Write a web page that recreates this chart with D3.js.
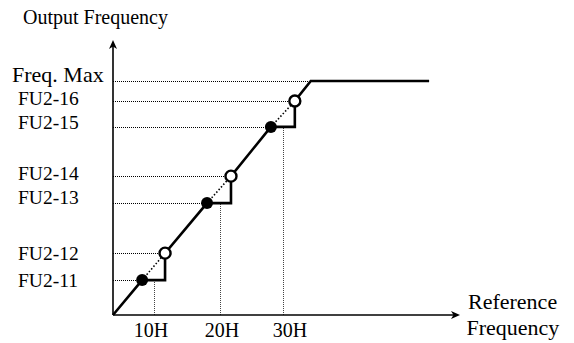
<!DOCTYPE html>
<html><head><meta charset="utf-8">
<script src="https://cdn.jsdelivr.net/npm/d3@7"></script>
<style>html,body{margin:0;padding:0;background:#fff;}svg{display:block;}
text{font-family:"Liberation Serif","Times New Roman",Times,"DejaVu Serif",serif;fill:#000;}</style>
</head><body>
<script>
// ---- data (abstract axis units, 0..100 along each axis) ----
const levelLabels = ["Freq. Max", "FU2-16", "FU2-15", "FU2-14", "FU2-13", "FU2-12", "FU2-11"];
const levelValues = [85.1, 77.8, 68.4, 50.5, 40.7, 22.5, 12.7];
const refTickLabels = ["10H", "20H", "30H"];
const refTickValues = [11.8, 30.8, 49.0];
const jumpLowX = [8.4, 27.1, 45.5];      // filled dots (reference freq)
const jumpLowY = [12.7, 40.7, 68.4];     // filled dots (output freq)
const jumpHighX = [15.0, 34.0, 52.4];    // open dots
const jumpHighY = [22.5, 50.5, 77.8];
const maxX = 57.0, maxY = 85.1, endX = 91.1;

const W = 574, H = 343;
const svg = d3.select("body").append("svg").attr("width", W).attr("height", H);
const x = d3.scaleLinear().domain([0, 100]).range([113, 460]);
const y = d3.scaleLinear().domain([0, 100]).range([315, 40]);

// dotted guide lines
const dotted = svg.append("g").attr("fill", "none").attr("stroke", "#000")
  .attr("stroke-width", 1).attr("stroke-dasharray", "1,1").attr("shape-rendering", "crispEdges");
const levelX = [maxX, jumpHighX[2], jumpLowX[2], jumpHighX[1], jumpLowX[1], jumpHighX[0], jumpLowX[0]];
levelValues.forEach((v, i) => {
  dotted.append("line").attr("x1", x(0)).attr("x2", x(levelX[i]))
    .attr("y1", Math.round(y(v)) + 0.5).attr("y2", Math.round(y(v)) + 0.5);
});
refTickValues.forEach((v, i) => {
  dotted.append("line").attr("x1", Math.round(x(v)) + 0.5).attr("x2", Math.round(x(v)) + 0.5)
    .attr("y1", y(0)).attr("y2", y(jumpLowY[i])).attr("stroke", "#444");
});
// dotted diagonals across the jump regions
jumpLowX.forEach((v, i) => {
  svg.append("line").attr("x1", x(v)).attr("y1", y(jumpLowY[i]))
    .attr("x2", x(jumpHighX[i])).attr("y2", y(jumpHighY[i]))
    .attr("stroke", "#000").attr("stroke-width", 1.6).attr("stroke-dasharray", "1.5,2");
});

// axes
const axes = svg.append("g").attr("stroke", "#000").attr("stroke-width", 1.6).attr("fill", "none");
axes.append("line").attr("x1", x(0)).attr("y1", y(0)).attr("x2", x(100) - 4).attr("y2", y(0));
axes.append("line").attr("x1", x(0)).attr("y1", y(0)).attr("x2", x(0)).attr("y2", y(100) + 4);
// arrowheads
svg.append("path").attr("fill", "#000")
  .attr("d", `M${x(100)},${y(0)} l-9,-4 l2.5,4 l-2.5,4 z`);
svg.append("path").attr("fill", "#000")
  .attr("d", `M${x(0)},${y(100)} l-4,9 l4,-2.5 l4,2.5 z`);

// main characteristic curve
const pts = [[0, 0]];
jumpLowX.forEach((v, i) => {
  pts.push([v, jumpLowY[i]]);
  pts.push([jumpHighX[i], jumpLowY[i]]);
  pts.push([jumpHighX[i], jumpHighY[i]]);
});
pts.push([maxX, maxY]);
pts.push([endX, maxY]);
svg.append("path").datum(pts)
  .attr("fill", "none").attr("stroke", "#000").attr("stroke-width", 2.6)
  .attr("stroke-linejoin", "miter")
  .attr("d", d3.line().x(d => x(d[0])).y(d => y(d[1])));

// dots
jumpLowX.forEach((v, i) => {
  svg.append("circle").attr("cx", x(v)).attr("cy", y(jumpLowY[i])).attr("r", 6).attr("fill", "#000");
  svg.append("circle").attr("cx", x(jumpHighX[i])).attr("cy", y(jumpHighY[i])).attr("r", 5.5)
    .attr("fill", "#fff").attr("stroke", "#000").attr("stroke-width", 2.4);
});

// level labels
const levelNudge = [-6, -3, -4, -3, -6, 0, 0];
levelLabels.forEach((t, i) => {
  const big = i === 0;
  svg.append("text").attr("x", big ? 12 : 18).attr("y", y(levelValues[i]) + levelNudge[i])
    .attr("dominant-baseline", "central")
    .attr("font-size", big ? 22 : 19.5).text(t);
});
// reference tick labels
const tickNudge = [-3, 2, 7];
refTickLabels.forEach((t, i) => {
  svg.append("text").attr("x", x(refTickValues[i]) + tickNudge[i]).attr("y", 337)
    .attr("text-anchor", "middle").attr("font-size", 20).text(t);
});
// axis titles
svg.append("text").attr("x", 23).attr("y", 24).attr("font-size", 20).text("Output Frequency");
svg.append("text").attr("x", 468).attr("y", 309).attr("font-size", 22).text("Reference");
svg.append("text").attr("x", 466.5).attr("y", 335).attr("font-size", 22).text("Frequency");
</script>
</body></html>
